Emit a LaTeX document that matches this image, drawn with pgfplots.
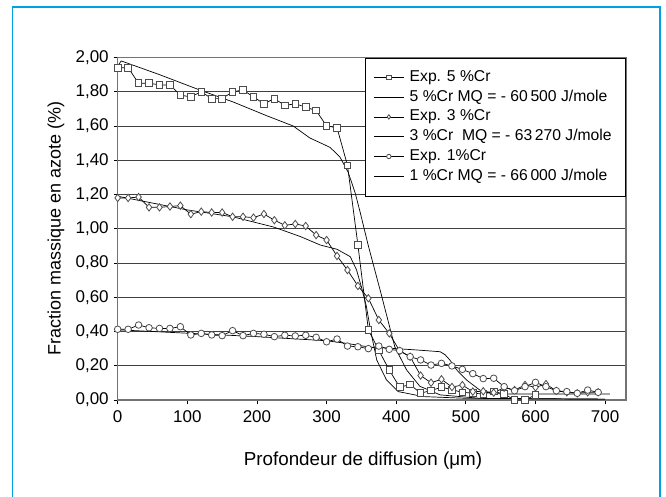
\documentclass[border=0pt]{standalone}
\usepackage{fontspec}
\setmainfont{Liberation Sans}
\usepackage{pgfplots}
\pgfplotsset{compat=1.18}
\definecolor{cadre}{RGB}{0,160,227}
\definecolor{marque}{gray}{0.3}

% one pt of the picture = one pixel of the 666x496 reference
\begin{document}
\begin{tikzpicture}
\path[use as bounding box] (-117.7pt,-96pt) rectangle (548.3pt,400pt);
\draw[cadre, line width=1.5pt] (-105pt,-120pt) -- (-105pt,393pt) -- (542.5pt,393pt) -- (542.5pt,-120pt);
\begin{axis}[
    at={(0pt,0pt)}, anchor=south west,
    scale only axis,
    width=508.3pt, height=342.5pt,
    xmin=0, xmax=730, ymin=0, ymax=2,
    xtick={0,100,...,700},
    ytick={0,0.2,...,2.01},
    xtick pos=bottom, ytick pos=left,
    tick align=outside,
    major tick length=4pt,
    tick style={black, line width=0.8pt},
    axis line style={draw=black!55, line width=1.2pt},
    ymajorgrids,
    major grid style={draw=black!75, line width=0.9pt},
    clip=false,
    tick label style={font=\fontsize{17}{20}\selectfont},
    /pgf/number format/assume math mode=true,
    x tick label style={yshift=-3.5pt},
    y tick label style={xshift=-1.5pt, /pgf/number format/.cd, fixed, fixed zerofill, precision=2, use comma, /tikz/.cd},
    xlabel={Profondeur de diffusion (μm)},
    ylabel={Fraction massique en azote (\%)},
    xlabel style={font=\fontsize{18.8}{22}\selectfont, at={(axis description cs:0.4826,0)}, anchor=base, yshift=-65.7pt},
    ylabel style={font=\fontsize{18}{21}\selectfont, at={(axis description cs:0,0.5)}, anchor=center, yshift=61.7pt},
    legend cell align=left,
    legend style={at={(1,1)}, anchor=north east, draw=black, line width=0.6pt,
        inner xsep=8.5pt, inner ysep=11.5pt, row sep=3.8pt,
        nodes={font=\fontsize{15.7}{19}\selectfont, inner ysep=0pt, inner xsep=5.5pt,
            text height=12pt, text depth=4pt}},
    legend image code/.code={\draw[mark repeat=2, mark phase=2, #1]
        plot coordinates {(0pt,0pt) (15pt,0pt) (30pt,0pt)};},
    legend image post style={mark size=2.2pt},
    every axis plot/.append style={line width=0.7pt},
]
% Exp. 5 %Cr
\addplot[black, mark=square*, mark size=3.3pt, mark options={draw=marque, fill=white, line width=0.8pt}] coordinates {
    (0,1.94) (15,1.94) (30,1.85) (45,1.85) (60,1.84) (75,1.84) (90,1.78) (105,1.77)
    (120,1.80) (135,1.76) (150,1.76) (165,1.80) (180,1.81) (195,1.77) (210,1.73)
    (225,1.76) (240,1.72) (255,1.73) (270,1.71) (285,1.69) (300,1.60) (315,1.59)
    (330,1.37) (345,0.905) (360,0.41) (375,0.29) (390,0.175) (405,0.075) (420,0.09)
    (435,0.04) (450,0.055) (465,0.075) (480,0.06) (495,0.045) (510,0.04) (525,0.035)
    (540,0.05) (555,0.035) (570,0.0) (585,0.0) (600,0.03)
};
% 5 %Cr model
\addplot[black, no marks] coordinates {
    (0,1.95) (5,1.98) (60,1.90) (118,1.81) (166,1.74) (214,1.66) (252,1.60)
    (276,1.53) (292,1.50) (305,1.475) (319,1.42) (331,1.33) (341,1.21) (348,1.10)
    (360,0.90) (377,0.64) (398,0.31) (415,0.175) (434,0.08) (463,0.03) (520,0.01) (700,0.005)
};
% Exp. 3 %Cr
\addplot[black, mark=diamond*, mark size=3.7pt, mark options={draw=marque, fill=white, line width=0.8pt}] coordinates {
    (0,1.18) (15,1.18) (30,1.185) (45,1.125) (60,1.125) (75,1.13) (90,1.135) (105,1.085)
    (120,1.10) (135,1.095) (150,1.095) (165,1.07) (180,1.07) (195,1.065) (210,1.086)
    (225,1.05) (240,1.02) (255,1.028) (270,1.016) (285,0.963) (300,0.934) (315,0.841)
    (330,0.759) (345,0.666) (360,0.594) (375,0.467) (390,0.389) (405,0.286) (420,0.253)
    (435,0.143) (450,0.101) (465,0.121) (480,0.076) (495,0.087) (510,0.049) (525,0.051)
    (540,0.043) (555,0.072) (570,0.058) (585,0.088) (600,0.074) (615,0.093) (630,0.053)
    (645,0.045) (660,0.039) (675,0.045) (690,0.045)
};
% 3 %Cr model
\addplot[black, no marks] coordinates {
    (0,1.19) (50,1.15) (100,1.11) (165,1.07) (224,1.01) (262,0.955) (291,0.905)
    (315,0.88) (334,0.837) (343,0.76) (350,0.66) (357,0.55) (363,0.41) (372,0.234)
    (386,0.117) (403,0.049) (439,0.02) (500,0.01) (700,0.005)
};
% Exp. 1 %Cr
\addplot[black, mark=*, mark size=3.3pt, mark options={draw=marque, fill=white, line width=0.8pt}] coordinates {
    (0,0.413) (15,0.413) (30,0.438) (45,0.422) (60,0.418) (75,0.418) (90,0.428) (105,0.38)
    (120,0.389) (135,0.38) (150,0.376) (165,0.405) (180,0.376) (195,0.389) (210,0.384)
    (225,0.37) (240,0.378) (255,0.374) (270,0.378) (285,0.366) (300,0.34) (315,0.356)
    (330,0.315) (345,0.311) (360,0.30) (375,0.315) (390,0.296) (405,0.288) (420,0.253)
    (435,0.234) (450,0.204) (465,0.214) (480,0.199) (495,0.179) (510,0.154) (525,0.125)
    (540,0.127) (555,0.078) (570,0.054) (585,0.078) (600,0.103) (615,0.078) (630,0.054)
    (645,0.049) (660,0.039) (675,0.058) (690,0.045)
};
% 1 %Cr model
\addplot[black, no marks] coordinates {
    (0,0.41) (50,0.40) (100,0.39) (200,0.37) (300,0.346) (330,0.33) (360,0.31)
    (400,0.30) (430,0.292) (463,0.282) (470,0.265) (477,0.234) (487,0.175) (501,0.117)
    (520,0.058) (535,0.039) (560,0.035) (707,0.035)
};
\legend{Exp. 5 \%Cr, 5 \%Cr MQ = - 60\,500 J/mole, Exp. 3 \%Cr,
    3 \%Cr\ \ MQ = - 63\,270 J/mole, Exp. 1\%Cr, 1 \%Cr MQ = - 66\,000 J/mole}
\end{axis}
\end{tikzpicture}
\end{document}
